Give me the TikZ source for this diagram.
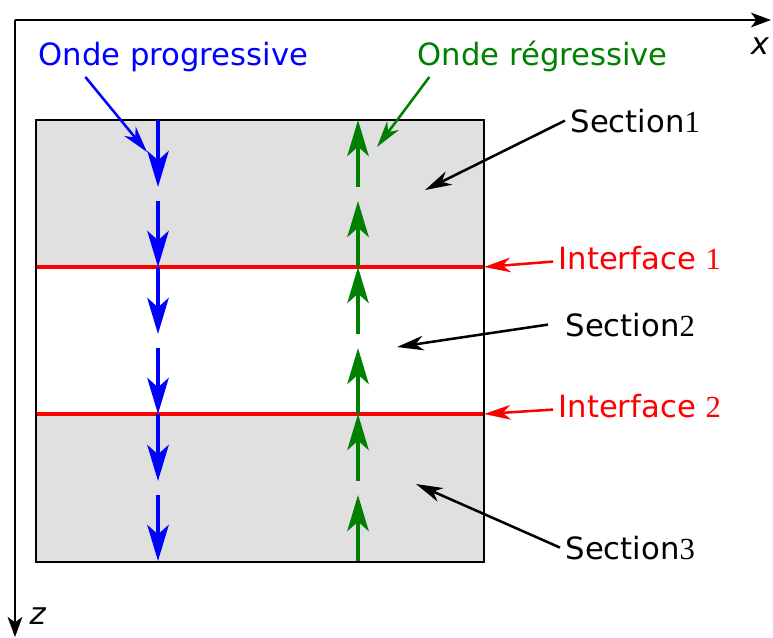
\documentclass[tikz,border=0pt]{standalone}
\usepackage{fontspec}
\setmainfont{DejaVu Sans}
\newfontfamily\chiffre{Liberation Serif}
\usetikzlibrary{arrows.meta}
\definecolor{grisSection}{RGB}{224,224,224}
\definecolor{bleuOnde}{RGB}{0,0,255}
\definecolor{vertOnde}{RGB}{0,128,0}
\definecolor{rougeInterface}{RGB}{255,0,0}

\begin{document}
\begin{tikzpicture}[x=0.75pt, y=-0.75pt,
  etiquette/.style={anchor=base west, inner sep=4pt, font=\fontsize{23}{27}\selectfont},
  axe/.style={-{Stealth[length=15pt, width=11pt, inset=4pt]}, line width=1.7pt},
  onde/.style={-{Stealth[length=27pt, width=16pt, inset=7pt]}, line width=3.3pt},
  pointe/.style={-{Stealth[length=20pt, width=11pt, inset=6pt]}, line width=1.9pt},
  interface/.style={line width=3.5pt, rougeInterface}]

  \useasboundingbox (0,0) rectangle (773,637);

  % axes
  \coordinate (origine) at (15,20);
  \coordinate (finX) at (771,20);
  \coordinate (finZ) at (15,637);
  \draw[axe] (origine) -- (finX);
  \draw[axe] (origine) -- (finZ);
  \node[font=\fontsize{23}{27}\selectfont] (labelX) at (760,46) {\textit{x}};
  \node[font=\fontsize{23}{27}\selectfont] (labelZ) at (38,616) {\textit{z}};

  % sections et interfaces
  \fill[grisSection] (36,120) rectangle (484,562);
  \fill[white] (36,267) rectangle (484,414);
  \draw[interface] (36,267) -- (484,267);
  \draw[interface] (36,414) -- (484,414);
  \draw[line width=1.9pt] (36,120) rectangle (484,562);

  % ondes
  \foreach \h in {120,267,414}{
    \draw[onde,bleuOnde] (158,\h) -- (158,\h+67);
    \draw[onde,bleuOnde] (158,\h+81) -- (158,\h+147);
    \draw[onde,vertOnde] (358,\h+67) -- (358,\h);
    \draw[onde,vertOnde] (358,\h+147) -- (358,\h+81);
  }

  % etiquettes
  \node[etiquette, text=bleuOnde] (progressive) at (33,65) {Onde progressive};
  \node[etiquette, text=vertOnde] (regressive) at (412,65) {Onde régressive};
  \node[etiquette] (sec1) at (565,132) {Section{\chiffre 1}};
  \node[etiquette, text=rougeInterface] (int1) at (553,269) {Interface {\chiffre 1}};
  \node[etiquette] (sec2) at (560,336) {Section{\chiffre 2}};
  \node[etiquette, text=rougeInterface] (int2) at (553,417) {Interface {\chiffre 2}};
  \node[etiquette] (sec3) at (560,559) {Section{\chiffre 3}};

  \coordinate (cibleP) at (147,152);
  \coordinate (cibleR) at (377,147);
  \coordinate (cible1) at (425,190);
  \coordinate (cibleI1) at (484,267);
  \coordinate (cible2) at (397,347);
  \coordinate (cibleI2) at (484,414);
  \coordinate (cible3) at (416,484);

  \draw[pointe,bleuOnde] ([xshift=-66pt]progressive.south) -- (cibleP);
  \draw[pointe,vertOnde] ([xshift=-85pt]regressive.south) -- (cibleR);
  \draw[pointe] (sec1.west) -- (cible1);
  \draw[pointe,rougeInterface] ([yshift=-3pt]int1.west) -- (cibleI1);
  \draw[pointe] ([xshift=-9pt]sec2.west) -- (cible2);
  \draw[pointe,rougeInterface] ([yshift=-3pt]int2.west) -- (cibleI2);
  \draw[pointe] (sec3.west) -- (cible3);
\end{tikzpicture}
\end{document}
